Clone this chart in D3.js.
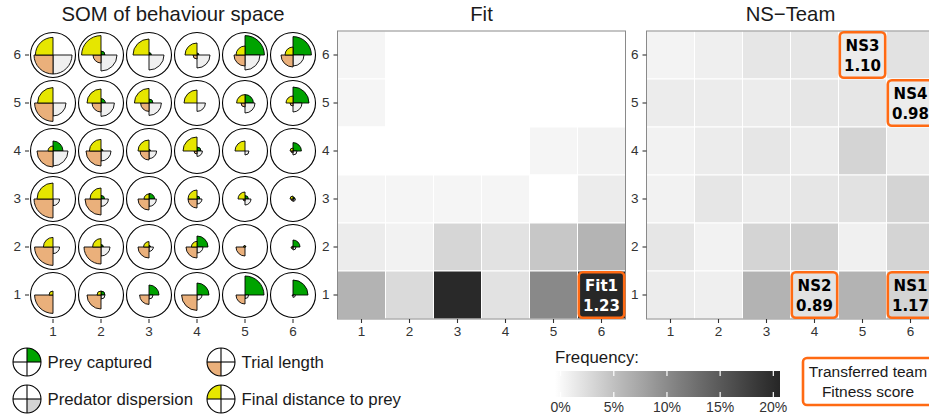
<!DOCTYPE html>
<html>
<head>
<meta charset="utf-8">
<script src="https://cdn.jsdelivr.net/npm/d3@7"></script>
<style>
body { margin: 0; background: #fff; }
svg text { font-family: "Liberation Sans", Arial, sans-serif; }
</style>
</head>
<body>
<svg id="chart" width="929" height="418"></svg>
<script>
var grid_ticks = [1, 2, 3, 4, 5, 6]
var rows_top_down = [6, 5, 4, 3, 2, 1]

// SOM quadrant sizes (0..1), rows listed from 6 (top) down to 1
var prey_captured = [
  [0, 0.2, 0.12, 0.1, 0.97, 0.92],
  [0, 0.22, 0.2, 0, 0.42, 0.8],
  [0.5, 0.1, 0.08, 0.2, 0, 0.42],
  [0, 0.18, 0.28, 0.15, 0.17, 0.1],
  [0, 0.12, 0.08, 0.55, 0.05, 0.35],
  [0, 0.2, 0.5, 0.6, 0.95, 0.75]
]
var predator_dispersion = [
  [0.95, 0.8, 0.75, 0.65, 0.75, 0.55],
  [0.65, 0.67, 0.62, 0.42, 0.5, 0.45],
  [0.75, 0.5, 0.38, 0.27, 0.2, 0.2],
  [0.33, 0.37, 0.37, 0.25, 0.3, 0.12],
  [0.33, 0.45, 0.22, 0.3, 0, 0.15],
  [0, 0.2, 0.2, 0.25, 0.18, 0.12]
]
var trial_length = [
  [0.95, 0.4, 0, 0.2, 0.55, 0.6],
  [0.92, 0.45, 0.42, 0, 0.2, 0.15],
  [0.8, 0.75, 0.45, 0.15, 0, 0.1],
  [0.95, 0.8, 0.55, 0.45, 0.1, 0.1],
  [0.92, 0.85, 0.55, 0.55, 0.45, 0.1],
  [0.92, 0.7, 0.47, 0.77, 0.45, 0.05]
]
var final_distance = [
  [0.88, 0.97, 0.8, 0.6, 0.45, 0.4],
  [0.77, 0.7, 0.73, 0.65, 0.42, 0.35],
  [0.25, 0.58, 0.55, 0.7, 0.5, 0.15],
  [0.8, 0.55, 0.25, 0.45, 0.35, 0.15],
  [0.48, 0.42, 0.27, 0.28, 0.08, 0.05],
  [0.2, 0.2, 0, 0, 0, 0]
]

// frequency (%) per SOM cell, rows from 6 down to 1
var fit_freq = [
  [0.8, 0, 0, 0, 0, 0],
  [0.8, 0, 0, 0, 0, 0],
  [0, 0, 0, 0, 0.8, 1.1],
  [0.8, 0.8, 0.8, 0.8, 0, 1.6],
  [1.6, 1.1, 3.4, 2.4, 4.7, 6.3],
  [6.4, 3.1, 19.8, 2.4, 10.2, 20.0]
]
var ns_freq = [
  [0.95, 1.3, 2.1, 2.1, 1.6, 2.4],
  [1.6, 1.6, 1.6, 2.1, 2.1, 1.6],
  [1.1, 1.6, 2.1, 1.6, 3.6, 1.6],
  [1.1, 2.1, 1.6, 2.1, 2.4, 3.6],
  [2.1, 1.1, 3.6, 4.1, 1.25, 3.6],
  [1.6, 1.3, 6.4, 2.4, 6.4, 3.6]
]
var fit_teams = [{name: "Fit1", score: "1.23", x: 6, y: 1}]
var ns_teams = [
  {name: "NS1", score: "1.17", x: 6, y: 1},
  {name: "NS2", score: "0.89", x: 4, y: 1},
  {name: "NS3", score: "1.10", x: 5, y: 6},
  {name: "NS4", score: "0.98", x: 6, y: 5}
]
var freq_breaks = [0, 5, 10, 15, 20]
var freq_max = 20.1

var colours = {prey: "#00a300", dispersion: "#f0f0f0", trial: "#eab07b", distance: "#e6e600", box: "#ff6a13"}

var svg = d3.select("#chart")
var size = 288
var top_y = 31

var fill = d3.scaleLinear().domain([0, freq_max]).range(["#ffffff", "#262626"]).interpolate(d3.interpolateLab)

function make_scales(x0){
  var x = d3.scaleBand().domain(grid_ticks).range([x0, x0 + size])
  var y = d3.scaleBand().domain(rows_top_down).range([top_y, top_y + size])
  return {x: x, y: y}
}

function draw_axes(g, s, title){
  var cx = s.x.range()
  g.append("text").attr("x", (cx[0] + cx[1]) / 2).attr("y", 21)
    .attr("text-anchor", "middle").style("font-size", "20.3px").attr("fill", "#1a1a1a").text(title)
  var xa = g.append("g").attr("transform", "translate(0," + (top_y + size) + ")")
    .call(d3.axisBottom(s.x).tickSize(4).tickPadding(3))
  var ya = g.append("g").attr("transform", "translate(" + cx[0] + ",0)")
    .call(d3.axisLeft(s.y).tickSize(4).tickPadding(4))
  ;[xa, ya].forEach(function(a){
    a.select(".domain").remove()
    a.selectAll("line").attr("stroke", "#333").attr("stroke-width", 1.1)
    a.selectAll("text").style("font-size", "13.5px").style("font-family", "Liberation Sans, Arial, sans-serif").attr("fill", "#333")
  })
}

function draw_som(){
  var s = make_scales(29)
  var g = svg.append("g")
  var r = d3.scaleLinear().domain([0, 1]).range([0, 20])
  var arc = d3.arc().innerRadius(0)
  var quads = [
    {data: prey_captured, col: colours.prey, a0: 0},
    {data: predator_dispersion, col: colours.dispersion, a0: Math.PI / 2},
    {data: trial_length, col: colours.trial, a0: Math.PI},
    {data: final_distance, col: colours.distance, a0: Math.PI * 1.5}
  ]
  rows_top_down.forEach(function(row, ri){
    grid_ticks.forEach(function(col, ci){
      var cx = s.x(col) + s.x.bandwidth() / 2
      var cy = s.y(row) + s.y.bandwidth() / 2
      var cell = g.append("g").attr("transform", "translate(" + cx + "," + cy + ")")
      cell.append("circle").attr("r", 22.5).attr("fill", "white").attr("stroke", "#000").attr("stroke-width", 1.1)
      quads.forEach(function(q){
        var v = q.data[ri][ci]
        if(v <= 0) return
        cell.append("path")
          .attr("d", arc({outerRadius: r(v), startAngle: q.a0, endAngle: q.a0 + Math.PI / 2}))
          .attr("fill", q.col).attr("stroke", "#000").attr("stroke-width", 0.9)
      })
    })
  })
  draw_axes(g, s, "SOM of behaviour space")
}

function draw_heat(x0, freq, teams, title){
  var s = make_scales(x0)
  var g = svg.append("g")
  var cells = []
  rows_top_down.forEach(function(row, ri){
    grid_ticks.forEach(function(col, ci){
      cells.push({x: col, y: row, v: freq[ri][ci]})
    })
  })
  g.selectAll("rect.tile").data(cells).enter().append("rect").attr("class", "tile")
    .attr("x", d => s.x(d.x)).attr("y", d => s.y(d.y))
    .attr("width", s.x.bandwidth()).attr("height", s.y.bandwidth())
    .attr("fill", d => fill(d.v)).attr("stroke", "white").attr("stroke-width", 1)
  g.append("rect").attr("x", x0).attr("y", top_y).attr("width", size).attr("height", size)
    .attr("fill", "none").attr("stroke", "#8a8a8a").attr("stroke-width", 1)
  var lookup = function(t){ return freq[rows_top_down.indexOf(t.y)][t.x - 1] }
  var tg = g.selectAll("g.team").data(teams).enter().append("g").attr("class", "team")
  tg.append("rect")
    .attr("x", d => s.x(d.x) + 1.3).attr("y", d => s.y(d.y) + 1.3)
    .attr("width", s.x.bandwidth() - 2.6).attr("height", s.y.bandwidth() - 2.6)
    .attr("rx", 4).attr("fill", "none").attr("stroke", colours.box).attr("stroke-width", 2.6)
  tg.each(function(d){
    var cx = s.x(d.x) + s.x.bandwidth() / 2
    var cy = s.y(d.y) + s.y.bandwidth() / 2
    var col = lookup(d) > 10 ? "#ffffff" : "#000000"
    var t = d3.select(this).append("text").attr("text-anchor", "middle").attr("fill", col)
      .style("font-family", "DejaVu Sans, sans-serif").style("font-weight", "bold").style("font-size", "15px")
    t.append("tspan").attr("x", cx).attr("y", cy - 4.5).text(d.name)
    t.append("tspan").attr("x", cx).attr("y", cy + 15.5).text(d.score)
  })
  draw_axes(g, s, title)
}

function legend_icon(cx, cy, a0, col){
  var g = svg.append("g").attr("transform", "translate(" + cx + "," + cy + ")")
  g.append("circle").attr("r", 14).attr("fill", "white")
  g.append("path").attr("d", d3.arc()({innerRadius: 0, outerRadius: 14, startAngle: a0, endAngle: a0 + Math.PI / 2}))
    .attr("fill", col)
  g.append("circle").attr("r", 14).attr("fill", "none").attr("stroke", "#000").attr("stroke-width", 1.1)
  g.append("line").attr("x1", -14).attr("x2", 14).attr("stroke", "#000").attr("stroke-width", 1.1)
  g.append("line").attr("y1", -14).attr("y2", 14).attr("stroke", "#000").attr("stroke-width", 1.1)
}

function draw_legends(){
  var items = [
    {label: "Prey captured", a0: 0, col: colours.prey, x: 27, y: 362},
    {label: "Predator dispersion", a0: Math.PI / 2, col: "#d3d3d3", x: 27, y: 399},
    {label: "Trial length", a0: Math.PI, col: colours.trial, x: 221, y: 362},
    {label: "Final distance to prey", a0: Math.PI * 1.5, col: colours.distance, x: 221, y: 399}
  ]
  items.forEach(function(it){
    legend_icon(it.x, it.y, it.a0, it.col)
    svg.append("text").attr("x", it.x + 20.5).attr("y", it.y + 6)
      .style("font-size", "16.8px").attr("fill", "#1a1a1a").text(it.label)
  })

  // colour bar
  var bx0 = 555, bx1 = 780, by = 371, bh = 26
  var grad = svg.append("defs").append("linearGradient").attr("id", "freqgrad")
  d3.range(0, 1.0001, 0.05).forEach(function(t){
    grad.append("stop").attr("offset", t).attr("stop-color", fill(t * freq_max))
  })
  svg.append("text").attr("x", bx0).attr("y", 363).style("font-size", "16.8px").attr("fill", "#1a1a1a").text("Frequency:")
  svg.append("rect").attr("x", bx0).attr("y", by).attr("width", bx1 - bx0).attr("height", bh).attr("fill", "url(#freqgrad)")
  var inset = (bx1 - bx0) / 40
  var bs = d3.scaleLinear().domain([0, freq_max]).range([bx0 + inset, bx1 - inset])
  freq_breaks.forEach(function(b){
    var x = bs(b)
    svg.append("line").attr("x1", x).attr("x2", x).attr("y1", by).attr("y2", by + 5).attr("stroke", "white").attr("stroke-width", 1.2)
    svg.append("line").attr("x1", x).attr("x2", x).attr("y1", by + bh - 5).attr("y2", by + bh).attr("stroke", "white").attr("stroke-width", 1.2)
    svg.append("text").attr("x", x).attr("y", 412).attr("text-anchor", "middle")
      .style("font-size", "14px").attr("fill", "#333").text(b + "%")
  })

  // transferred team key
  svg.append("rect").attr("x", 803).attr("y", 358).attr("width", 140).attr("height", 47).attr("rx", 4)
    .attr("fill", "white").attr("stroke", colours.box).attr("stroke-width", 2.6)
  svg.append("text").attr("x", 868).attr("y", 377).attr("text-anchor", "middle").style("font-size", "15.5px").attr("fill", "#1a1a1a").text("Transferred team")
  svg.append("text").attr("x", 868).attr("y", 397).attr("text-anchor", "middle").style("font-size", "15.5px").attr("fill", "#1a1a1a").text("Fitness score")
}

draw_som()
draw_heat(337.5, fit_freq, fit_teams, "Fit")
draw_heat(646.5, ns_freq, ns_teams, "NS\u2212Team")
draw_legends()
</script>
</body>
</html>
